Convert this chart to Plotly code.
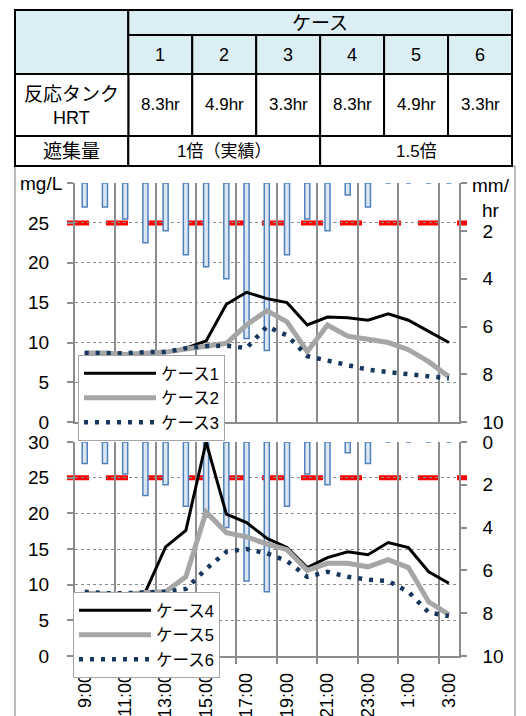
import plotly.graph_objects as go

# ---------------- data ----------------
times = ["9:00", "10:00", "11:00", "12:00", "13:00", "14:00", "15:00", "16:00",
         "17:00", "18:00", "19:00", "20:00", "21:00", "22:00", "23:00", "0:00",
         "1:00", "2:00", "3:00"]
rain = [1.0, 1.0, 1.5, 2.5, 2.0, 3.0, 3.5, 4.0, 6.5, 7.0, 3.0, 1.5, 2.0, 0.5, 1.0,
        0, 0, 0, 0]

case1 = [8.7, 8.7, 8.6, 8.7, 8.8, 9.3, 10.2, 14.8, 16.3, 15.5, 15.0, 12.2, 13.2,
         13.1, 12.8, 13.6, 12.8, 11.4, 10.0]
case2 = [8.7, 8.7, 8.5, 8.7, 8.8, 9.2, 9.6, 9.9, 12.2, 14.0, 12.6, 8.85, 12.2,
         10.8, 10.4, 10.0, 9.1, 7.6, 5.7]
case3 = [8.7, 8.7, 8.65, 8.8, 8.8, 9.3, 9.55, 9.6, 9.3, 12.0, 10.9, 8.3, 7.7,
         7.1, 6.6, 6.3, 6.0, 5.7, 5.5]
case4 = [8.8, 8.7, 8.6, 9.0, 15.3, 17.6, 30.0, 19.9, 18.7, 16.5, 15.2, 12.4, 13.8,
         14.6, 14.2, 15.9, 15.2, 11.8, 10.2]
case5 = [8.8, 8.7, 8.6, 8.9, 9.0, 11.1, 20.2, 17.3, 16.7, 15.7, 14.9, 12.0, 13.0,
         13.0, 12.5, 13.5, 12.4, 7.6, 5.8]
case6 = [9.0, 8.8, 8.8, 8.9, 9.0, 9.4, 12.2, 14.6, 15.0, 14.4, 13.3, 11.1, 11.8,
         11.1, 10.7, 10.5, 9.0, 6.1, 5.6]

names_top = ["ケース1", "ケース2", "ケース3"]
names_bot = ["ケース4", "ケース5", "ケース6"]
threshold = 25

left_ticks = [0, 5, 10, 15, 20, 25, 30]
right_ticks = [0, 2, 4, 6, 8, 10]

table_cases = ["1", "2", "3", "4", "5", "6"]
table_hrt = ["8.3hr", "4.9hr", "3.3hr", "8.3hr", "4.9hr", "3.3hr"]
table_ratio = ["1倍（実績）", "1.5倍"]
header_case = "ケース"
row_label_hrt = ["反応タンク", "HRT"]
row_label_ratio = "遮集量"

# ---------------- geometry helpers ----------------
W, H = 526, 716
FONT = "Liberation Sans, Noto Sans CJK JP, sans-serif"
GRAY = "#8c8c8c"


def px(x):
    return x / W


def py(y):
    return 1 - y / H


xs = list(range(len(times)))
label_idx = xs[::2]
label_txt = [times[i] for i in label_idx]
bounds = [i + 0.5 for i in xs[1:-1:2]]

fig = go.Figure()

line_styles = [dict(color="black", width=3),
               dict(color="#a6a6a6", width=5),
               dict(color="#17375e", width=4.5, dash="4px,7px")]


def add_panel(xa, ya_bar, ya_line, series, names, legend):
    fig.add_trace(go.Bar(x=xs, y=rain, xaxis=xa, yaxis=ya_bar, width=0.25,
                         marker=dict(color="#dce6f2",
                                     line=dict(color="#4f81bd", width=1.5)),
                         showlegend=False, hoverinfo="skip"))
    for s, n, st in zip(series, names, line_styles):
        fig.add_trace(go.Scatter(x=xs, y=s, xaxis=xa, yaxis=ya_line,
                                 mode="lines", line=st, name=n, legend=legend))


add_panel("x", "y", "y2", [case1, case2, case3], names_top, "legend")
add_panel("x2", "y3", "y4", [case4, case5, case6], names_bot, "legend2")

xdom = [px(74.6), px(459)]
top_dom = [py(422.3), py(183)]
bot_dom = [py(656), py(442)]


def xaxis_cfg(anchor, show_labels):
    return dict(domain=xdom, anchor=anchor, range=[-0.5, len(times) - 0.5],
                tickvals=label_idx, ticktext=label_txt, showticklabels=show_labels,
                tickangle=-90, ticks="", showgrid=False, zeroline=False,
                showline=True, linecolor=GRAY, linewidth=1.5,
                tickfont=dict(size=18, color="black"), ticklabelstandoff=8,
                automargin=False,
                minor=dict(tickvals=bounds, ticks="outside" if show_labels else "",
                           ticklen=6, tickcolor=GRAY, tickwidth=1.5,
                           showgrid=True, gridcolor=GRAY, gridwidth=1.5))


def right_cfg(anchor, dom, text):
    return dict(domain=dom, anchor=anchor, side="right", range=[10, 0],
                tickvals=right_ticks, ticktext=text, ticks="outside", ticklen=6,
                tickcolor=GRAY, tickwidth=1.5, showgrid=False, zeroline=False,
                showline=True, linecolor=GRAY, linewidth=1.5,
                tickfont=dict(size=19, color="black"), ticklabelstandoff=12,
                automargin=False)


def left_cfg(anchor, over, text):
    return dict(anchor=anchor, overlaying=over, side="left", range=[0, 30],
                tickvals=left_ticks, ticktext=text, ticks="outside", ticklen=6,
                tickcolor=GRAY, tickwidth=1.5, showgrid=True, gridcolor=GRAY,
                gridwidth=1, griddash="dot", zeroline=False, showline=True,
                linecolor=GRAY, linewidth=1.5,
                tickfont=dict(size=19, color="black"), ticklabelstandoff=14,
                automargin=False)


top_left_text = [str(v) for v in left_ticks[:-1]] + [""]
top_right_text = [""] + [str(v) for v in right_ticks[1:]]

shapes = []
annotations = []

# threshold dashed lines (layer below grid and bars)
for yref in ["y2", "y4"]:
    shapes.append(dict(type="line", xref="paper", yref=yref, x0=px(67), x1=px(467),
                       y0=threshold, y1=threshold, layer="below",
                       line=dict(color="#ff0000", width=5, dash="22px,17px")))

# chart frame
shapes.append(dict(type="rect", xref="paper", yref="paper", x0=px(15), x1=px(515),
                   y0=py(740), y1=py(166), layer="below",
                   line=dict(color="#a6a6a6", width=1.5)))

# ---------------- table ----------------
BLUE = "#dbeef3"
tl, tr = 15, 512
c0 = 128.3
cw = (tr - c0) / len(table_cases)
rows = [10, 35, 74, 136, 166]


def cell(x0, y0, x1, y1, fill):
    shapes.append(dict(type="rect", xref="paper", yref="paper", x0=px(x0), x1=px(x1),
                       y0=py(y1), y1=py(y0), fillcolor=fill, layer="above",
                       line=dict(color="black", width=2)))


def text(x, y, s, size):
    annotations.append(dict(xref="paper", yref="paper", x=px(x), y=py(y), text=s,
                            showarrow=False, xanchor="center", yanchor="middle",
                            font=dict(size=size, color="black", family=FONT)))


cell(tl, rows[0], c0, rows[2], BLUE)
cell(c0, rows[0], tr, rows[1], BLUE)
text((c0 + tr) / 2, (rows[0] + rows[1]) / 2 + 1, header_case, 19)
for k, (cs, hr) in enumerate(zip(table_cases, table_hrt)):
    a, b = c0 + k * cw, c0 + (k + 1) * cw
    cell(a, rows[1], b, rows[2], BLUE)
    cell(a, rows[2], b, rows[3], "white")
    text((a + b) / 2, (rows[1] + rows[2]) / 2, cs, 18)
    text((a + b) / 2, (rows[2] + rows[3]) / 2, hr, 17)
cell(tl, rows[2], c0, rows[3], "white")
text((tl + c0) / 2, 94, row_label_hrt[0], 19)
text((tl + c0) / 2, 118, row_label_hrt[1], 18)
cell(tl, rows[3], c0, rows[4], "white")
text((tl + c0) / 2, (rows[3] + rows[4]) / 2, row_label_ratio, 19)
half = len(table_cases) // 2
for k, s in enumerate(table_ratio):
    a, b = c0 + k * half * cw, c0 + (k + 1) * half * cw
    cell(a, rows[3], b, rows[4], "white")
    text((a + b) / 2, (rows[3] + rows[4]) / 2, s, 17)

# axis unit labels
text(41.3, 183, "mg/L", 19)
text(491, 197.5, "mm/<br>hr", 19)

legend_common = dict(xanchor="left", yanchor="top", bgcolor="white",
                     bordercolor="#a6a6a6", borderwidth=1, itemwidth=72,
                     tracegroupgap=0, font=dict(size=16.5, color="black", family=FONT))

fig.update_layout(
    width=W, height=H,
    margin=dict(l=0, r=0, t=0, b=0),
    paper_bgcolor="white", plot_bgcolor="rgba(0,0,0,0)",
    font=dict(family=FONT, color="black"),
    barmode="overlay",
    xaxis=xaxis_cfg("y", False),
    yaxis=right_cfg("x", top_dom, top_right_text),
    yaxis2=left_cfg("x", "y", top_left_text),
    xaxis2=xaxis_cfg("y3", True),
    yaxis3=right_cfg("x2", bot_dom, [str(v) for v in right_ticks]),
    yaxis4=left_cfg("x2", "y3", [str(v) for v in left_ticks]),
    legend=dict(x=px(78), y=py(355), **legend_common),
    legend2=dict(x=px(73), y=py(592), **legend_common),
    shapes=shapes, annotations=annotations,
    showlegend=True,
)

fig.write_html("out.html", config={"displayModeBar": False},
               post_script="document.body.style.margin='0px';")
